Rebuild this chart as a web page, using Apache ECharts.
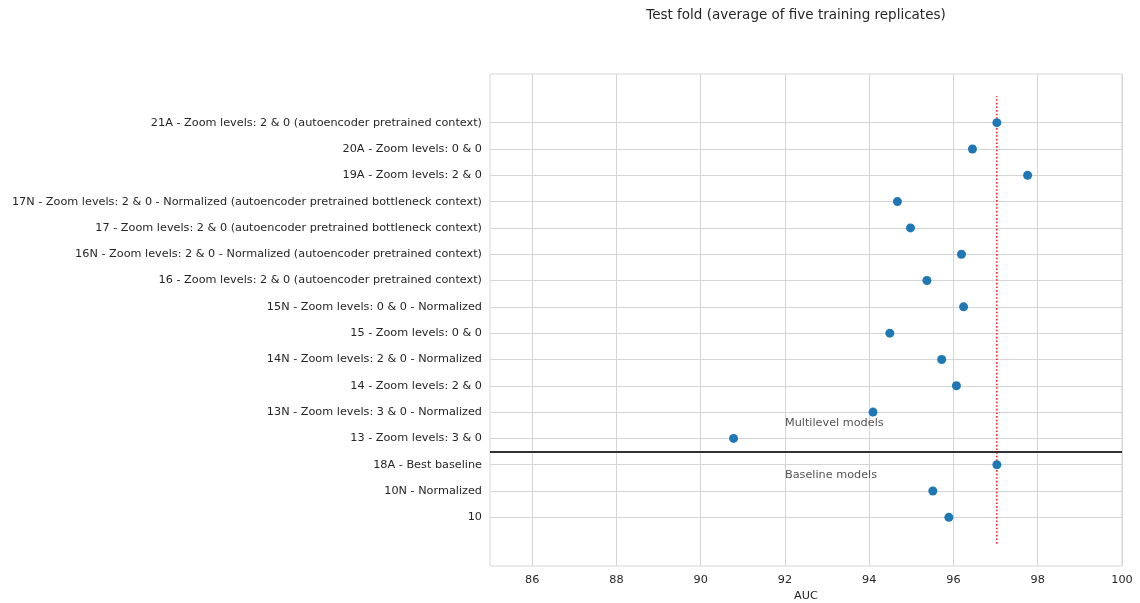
<!DOCTYPE html>
<html>
<head>
<meta charset="utf-8">
<script src="https://cdn.jsdelivr.net/npm/echarts@6/dist/echarts.min.js"></script>
<style>
  html, body { margin: 0; padding: 0; background: #fff; }
  #chart { width: 1140px; height: 603px; }
</style>
</head>
<body>
<div id="chart"></div>
<script>
// Models, listed bottom to top
const models = [
  '10',
  '10N - Normalized',
  '18A - Best baseline',
  '13 - Zoom levels: 3 & 0',
  '13N - Zoom levels: 3 & 0 - Normalized',
  '14 - Zoom levels: 2 & 0',
  '14N - Zoom levels: 2 & 0 - Normalized',
  '15 - Zoom levels: 0 & 0',
  '15N - Zoom levels: 0 & 0 - Normalized',
  '16 - Zoom levels: 2 & 0 (autoencoder pretrained context)',
  '16N - Zoom levels: 2 & 0 - Normalized (autoencoder pretrained context)',
  '17 - Zoom levels: 2 & 0 (autoencoder pretrained bottleneck context)',
  '17N - Zoom levels: 2 & 0 - Normalized (autoencoder pretrained bottleneck context)',
  '19A - Zoom levels: 2 & 0',
  '20A - Zoom levels: 0 & 0',
  '21A - Zoom levels: 2 & 0 (autoencoder pretrained context)'
];

// Test-fold AUC, averaged over five training replicates
const auc = [
  95.89, 95.51, 97.03, 90.78, 94.09, 96.07, 95.72, 94.49,
  96.24, 95.37, 96.19, 94.98, 94.67, 97.76, 96.45, 97.03
];

const baselineCount = 3;                 // first three rows are baselines
const bestBaselineName = '18A - Best baseline';
const xTicks = [86, 88, 90, 92, 94, 96, 98, 100];
const groupLabels = ['Multilevel models', 'Baseline models'];

const rowIdx = models.map((_, i) => i);
const bestAuc = auc[models.indexOf(bestBaselineName)];
const splitY = baselineCount - 0.5;

const textColor = '#262626';
const gridColor = '#d5d5d5';
const font = 'DejaVu Sans';
const labelSize = 11.25;

const chart = echarts.init(document.getElementById('chart'), null, { renderer: 'canvas' });

chart.setOption({
  animation: false,
  backgroundColor: '#ffffff',
  textStyle: { fontFamily: font },
  title: {
    text: 'Test fold (average of five training replicates)',
    left: 791,
    top: 3,
    textAlign: 'center',
    textStyle: { fontFamily: font, fontSize: 13.5, fontWeight: 'normal', color: textColor }
  },
  grid: {
    left: 490, right: 18, top: 74, bottom: 37,
    outerBoundsMode: 'none',
    containLabel: false,
    show: true, borderColor: gridColor, borderWidth: 1, backgroundColor: 'transparent'
  },
  xAxis: {
    type: 'value',
    min: 85,
    max: 100,
    name: 'AUC',
    nameLocation: 'middle',
    nameGap: 25,
    nameTextStyle: { fontFamily: font, fontSize: labelSize, color: textColor },
    axisLine: { show: false },
    axisTick: { show: false, customValues: xTicks },
    axisLabel: { customValues: xTicks, margin: 9, fontFamily: font, fontSize: labelSize, color: textColor },
    splitLine: { show: true, lineStyle: { color: gridColor, width: 1 } }
  },
  yAxis: {
    type: 'value',
    min: -1.85,
    max: models.length - 1 + 1.85,
    axisLine: { show: false },
    axisTick: { show: false, customValues: rowIdx },
    axisLabel: {
      customValues: rowIdx,
      margin: 8,
      fontFamily: font,
      fontSize: labelSize,
      color: textColor,
      formatter: v => models[Math.round(v)]
    },
    splitLine: { show: true, lineStyle: { color: gridColor, width: 1 } }
  },
  series: [
    {
      // best-baseline reference line
      type: 'line',
      data: [[bestAuc, -1], [bestAuc, models.length]],
      symbol: 'none',
      lineStyle: { color: '#ff2020', width: 1.6, type: [1.6, 2] },
      z: 3,
      silent: true,
      markLine: {
        silent: true,
        symbol: 'none',
        label: { show: false },
        lineStyle: { color: '#333333', width: 2, type: 'solid' },
        data: [{ yAxis: splitY }]
      }
    },
    {
      type: 'scatter',
      data: auc.map((v, i) => [v, i]),
      symbol: 'circle',
      symbolSize: 9,
      itemStyle: { color: '#1f77b4', opacity: 1 },
      z: 4
    },
    {
      // group captions
      type: 'scatter',
      data: [[92, splitY + 1], [92, splitY - 1]],
      symbolSize: 0,
      silent: true,
      label: {
        show: true,
        position: [0, 0],
        align: 'left',
        verticalAlign: 'bottom',
        offset: [0, 3],
        fontFamily: font,
        fontSize: labelSize,
        color: textColor,
        formatter: p => groupLabels[p.dataIndex]
      }
    }
  ]
});
</script>
</body>
</html>
